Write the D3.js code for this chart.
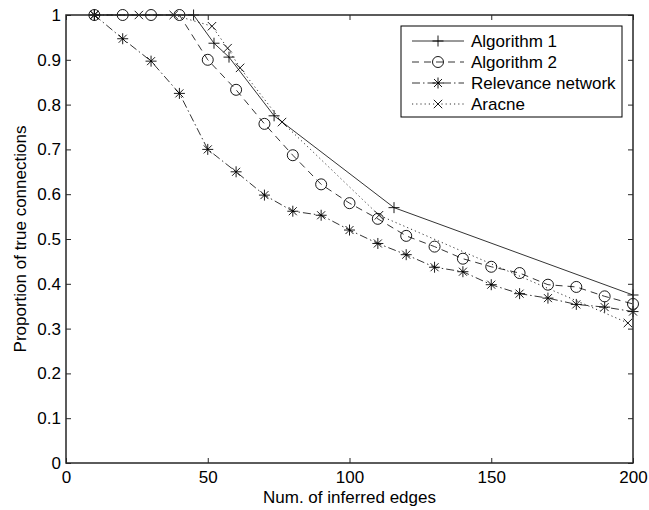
<!DOCTYPE html>
<html>
<head>
<meta charset="utf-8">
<script src="https://cdn.jsdelivr.net/npm/d3@7"></script>
<style>
body { margin: 0; background: #fff; }
text { font-family: "Liberation Sans", Arial, sans-serif; }
</style>
</head>
<body>
<script>
// series values
var algo1X = [10, 45, 52.2, 57.5, 73.4, 115.7, 200];
var algo1Y = [1, 1, 0.937, 0.906, 0.775, 0.57, 0.375];

var algo2X = [10, 20, 30, 40, 50, 60, 70, 80, 90, 100, 110, 120, 130, 140, 150, 160, 170, 180, 190, 200];
var algo2Y = [1, 1, 1, 1, 0.9, 0.833, 0.757, 0.687, 0.622, 0.58, 0.545, 0.507, 0.483, 0.456, 0.438, 0.424, 0.398, 0.393, 0.372, 0.355];

var relX = [10, 20, 30, 40, 50, 60, 70, 80, 90, 100, 110, 120, 130, 140, 150, 160, 170, 180, 190, 200];
var relY = [1, 0.947, 0.897, 0.825, 0.70, 0.65, 0.598, 0.562, 0.553, 0.52, 0.49, 0.465, 0.437, 0.427, 0.398, 0.378, 0.368, 0.354, 0.348, 0.338];

var aracneX = [10, 25.7, 38, 51.5, 57, 61.4, 76.2, 110.4, 198.2];
var aracneY = [1, 1, 1, 0.975, 0.926, 0.882, 0.761, 0.553, 0.3125];

var xTicks = [0, 50, 100, 150, 200];
var yTicks = [0, 0.1, 0.2, 0.3, 0.4, 0.5, 0.6, 0.7, 0.8, 0.9, 1];

var seriesNames = ["Algorithm 1", "Algorithm 2", "Relevance network", "Aracne"];

var W = 649, H = 510;
var plot = {left: 66, right: 633, top: 15, bottom: 463};

var x = d3.scaleLinear().domain([0, 200]).range([plot.left, plot.right]);
var y = d3.scaleLinear().domain([0, 1]).range([plot.bottom, plot.top]);

var svg = d3.select("body").append("svg")
  .attr("width", W)
  .attr("height", H)
  .style("background", "#fff");

var series = [
  {name: seriesNames[0], xs: algo1X, ys: algo1Y, dash: null, marker: "plus"},
  {name: seriesNames[1], xs: algo2X, ys: algo2Y, dash: "7,5", marker: "circle"},
  {name: seriesNames[2], xs: relX, ys: relY, dash: "8,3,1.5,3", marker: "star"},
  {name: seriesNames[3], xs: aracneX, ys: aracneY, dash: "1.2,3", marker: "cross"}
];

function drawMarker(g, type, cx, cy) {
  var s = 5.5, c = 4.2;
  if (type == "plus" || type == "star") {
    g.append("line").attr("x1", cx - s).attr("x2", cx + s).attr("y1", cy).attr("y2", cy);
    g.append("line").attr("x1", cx).attr("x2", cx).attr("y1", cy - s).attr("y2", cy + s);
  }
  if (type == "cross" || type == "star") {
    var k = type == "star" ? 4 : c;
    g.append("line").attr("x1", cx - k).attr("x2", cx + k).attr("y1", cy - k).attr("y2", cy + k);
    g.append("line").attr("x1", cx - k).attr("x2", cx + k).attr("y1", cy + k).attr("y2", cy - k);
  }
  if (type == "circle") {
    g.append("circle").attr("cx", cx).attr("cy", cy).attr("r", 5.5).attr("fill", "none");
  }
}

var line = d3.line()
  .x(function(d) { return x(d[0]); })
  .y(function(d) { return y(d[1]); });

// lines and markers
series.forEach(function(s) {
  var pts = s.xs.map(function(v, i) { return [v, s.ys[i]]; });
  svg.append("path")
    .datum(pts)
    .attr("d", line)
    .attr("fill", "none")
    .attr("stroke", "#000")
    .attr("stroke-width", 0.8)
    .attr("stroke-dasharray", s.dash);
  var mg = svg.append("g").attr("stroke", "#000").attr("stroke-width", 0.9);
  pts.forEach(function(p) { drawMarker(mg, s.marker, x(p[0]), y(p[1])); });
});

// axes, MATLAB style ticks pointing inward
var ax = svg.append("g").attr("class", "axes");

ax.append("g")
  .attr("transform", "translate(0," + plot.bottom + ")")
  .call(d3.axisBottom(x).tickValues(xTicks).tickSizeInner(-5).tickSizeOuter(0).tickPadding(8).tickFormat(d3.format("d")));
ax.append("g")
  .attr("transform", "translate(0," + plot.top + ")")
  .call(d3.axisTop(x).tickValues(xTicks).tickSizeInner(-5).tickSizeOuter(0).tickFormat(""));
ax.append("g")
  .attr("transform", "translate(" + plot.left + ",0)")
  .call(d3.axisLeft(y).tickValues(yTicks).tickSizeInner(-5).tickSizeOuter(0).tickPadding(5).tickFormat(function(d) { return String(+d.toFixed(1)); }));
ax.append("g")
  .attr("transform", "translate(" + plot.right + ",0)")
  .call(d3.axisRight(y).tickValues(yTicks).tickSizeInner(-5).tickSizeOuter(0).tickFormat(""));

ax.selectAll(".domain").remove();
ax.selectAll(".tick line").attr("stroke", "#262626").attr("stroke-width", 1);
ax.selectAll(".tick text")
  .attr("fill", "#000")
  .style("font-size", "17px")
  .style("font-family", "'Liberation Sans', Arial, sans-serif");

ax.append("rect")
  .attr("x", plot.left).attr("y", plot.top)
  .attr("width", plot.right - plot.left).attr("height", plot.bottom - plot.top)
  .attr("fill", "none")
  .attr("stroke", "#262626")
  .attr("stroke-width", 1.5);

// axis labels
svg.append("text")
  .attr("x", (plot.left + plot.right) / 2)
  .attr("y", 503)
  .attr("text-anchor", "middle")
  .style("font-size", "17px")
  .text("Num. of inferred edges");

svg.append("text")
  .attr("transform", "translate(26," + ((plot.top + plot.bottom) / 2) + ") rotate(-90)")
  .attr("text-anchor", "middle")
  .style("font-size", "17px")
  .text("Proportion of true connections");

// legend
var lg = svg.append("g");
lg.append("rect")
  .attr("x", 401).attr("y", 26)
  .attr("width", 221).attr("height", 91)
  .attr("fill", "#fff")
  .attr("stroke", "#000")
  .attr("stroke-width", 1);

series.forEach(function(s, i) {
  var ly = 41 + i * 21;
  lg.append("line")
    .attr("x1", 412).attr("x2", 464)
    .attr("y1", ly).attr("y2", ly)
    .attr("stroke", "#000")
    .attr("stroke-width", 0.8)
    .attr("stroke-dasharray", s.dash);
  var mg = lg.append("g").attr("stroke", "#000").attr("stroke-width", 0.9);
  drawMarker(mg, s.marker, 438, ly);
  lg.append("text")
    .attr("x", 471)
    .attr("y", ly + 6)
    .style("font-size", "17px")
    .text(s.name);
});
</script>
</body>
</html>
